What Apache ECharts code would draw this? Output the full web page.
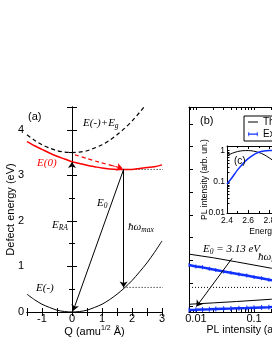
<!DOCTYPE html>
<html><head><meta charset="utf-8">
<script src="https://cdn.jsdelivr.net/npm/echarts@6/dist/echarts.min.js"></script>
<style>html,body{margin:0;padding:0;background:#fff}#c{width:272px;height:352px}</style>
</head><body><div id="c"></div>
<script>
// ---------- panel (a): configuration coordinate diagram ----------
const qValues = [-1.5,-1.25,-1,-0.75,-0.5,-0.25,0,0.25,0.5,0.75,1,1.25,1.5,1.75,2,2.25,2.5,2.75,3];
const eMinus = [0.39,0.27,0.17,0.10,0.04,0.01,0,0.01,0.04,0.10,0.17,0.27,0.39,0.53,0.69,0.88,1.08,1.31,1.56];
const eZero = [3.74,3.65,3.57,3.49,3.42,3.36,3.30,3.26,3.22,3.19,3.16,3.14,3.13,3.13,3.13,3.15,3.17,3.19,3.23];
const eMinusPlusGap = [3.89,3.77,3.67,3.60,3.54,3.51,3.50,3.51,3.54,3.60,3.67,3.77,3.89,4.03,4.19,4.38,4.58,4.81,5.06];
const relaxQ = [0.1,0.5,0.9,1.3,1.62];
const relaxE = [3.45,3.37,3.29,3.22,3.16];
const qTickLabels = [-1,0,1,2,3];
const eTickLabels = [0,1,2,3,4];
const qExcited = 1.72, eZeroMin = 3.13, eAbsorbTop = 3.29, eEmitLow = 0.54, qPanelB = 3.9;

// ---------- panel (b): PL intensity (log) vs energy ----------
const plTheory = [0.0076,0.02,0.05,0.1,0.2,0.5,1.0,1.6];
const theoryHigh = [1.27,1.19,1.10,1.03,0.96,0.87,0.80,0.76];
const theoryLow = [0.17,0.20,0.23,0.255,0.28,0.31,0.33,0.35];
const plExpt = [0.0076,0.01,0.013,0.017,0.022,0.03,0.04,0.055,0.075,0.1,0.135,0.18,0.25,0.35,0.5,0.7,1.0,1.4];
const exptHigh = [1.03,1.00,0.98,0.95,0.92,0.89,0.86,0.83,0.80,0.77,0.74,0.71,0.68,0.65,0.61,0.58,0.54,0.51];
const exptLow = [0.045,0.05,0.055,0.06,0.065,0.07,0.075,0.085,0.09,0.095,0.10,0.105,0.115,0.12,0.125,0.135,0.14,0.145];
const plMajor = [0.01,0.1,1];
const plAllTicks = [0.008,0.009,0.01,0.02,0.03,0.04,0.05,0.06,0.07,0.08,0.09,0.1,0.2,0.3,0.4,0.5,0.6,0.7,0.8,0.9,1];
const bEnergyTicks = [0.13,0.63,1.13,1.63,2.13,2.63,3.13,3.63,4.13];
const arrowB = [[0.042,1.18],[0.0102,0.12]];

// ---------- inset (c): PL spectra ----------
const insetEnergy = [2.4,2.45,2.5,2.55,2.6,2.65,2.7,2.75,2.8,2.85,2.9,2.95,3.0,3.05,3.1,3.15,3.2,3.25];
const insetTheory = [0.68,0.82,0.93,0.99,1.0,0.96,0.87,0.74,0.58,0.44,0.31,0.20,0.12,0.07,0.04,0.022,0.012,0.01];
const insetExpt = [0.085,0.14,0.24,0.38,0.55,0.73,0.88,0.97,1.0,0.98,0.90,0.78,0.62,0.46,0.32,0.21,0.13,0.08];
const insetMajor = [0.01,0.1,1];
const insetAllTicks = [0.01,0.02,0.03,0.04,0.05,0.06,0.07,0.08,0.09,0.1,0.2,0.3,0.4,0.5,0.6,0.7,0.8,0.9,1];

const BLUE = '#1030ff', RED = '#ff0000';
const zip = (a, b) => a.map((v, i) => [v, b[i]]);
const SANS = 'Liberation Sans', SERIF = 'Liberation Serif';
const rich = {
  e: {fontFamily: SERIF, fontStyle: 'italic', fontSize: 11, lineHeight: 14},
  s: {fontFamily: SERIF, fontStyle: 'italic', fontSize: 7.5, lineHeight: 6, verticalAlign: 'bottom'},
  n: {fontFamily: SANS, fontSize: 11, lineHeight: 14},
  c: {fontFamily: SANS, fontSize: 10, lineHeight: 14}
};
function txt(x, y, text, color) {
  return {type: 'text', x: x, y: y, z: 50,
    style: {text: text, rich: rich, fill: color || '#000', align: 'left', verticalAlign: 'middle',
            textAlign: 'left', textVerticalAlign: 'middle'}};
}
const axisLineK = {show: true, lineStyle: {color: '#000', width: 1}};
const fmtNum = v => String(+(+v).toPrecision(3));

const grids = [
  {left: 27, top: 107, width: 135, height: 205, outerBoundsMode: 'none', containLabel: false},
  {left: 189, top: 107, width: 135, height: 205, outerBoundsMode: 'none', containLabel: false},
  {left: 227, top: 146, width: 90, height: 67, outerBoundsMode: 'none', containLabel: false,
   show: true, backgroundColor: '#fff', borderWidth: 0}
];

const xAxes = [
  {gridIndex: 0, type: 'value', position: 'bottom', min: -1.5, max: 3, interval: 0.5,
   axisLine: axisLineK, splitLine: {show: false},
   axisTick: {inside: true, length: 4, lineStyle: {color: '#000'}},
   axisLabel: {customValues: qTickLabels, margin: 1, color: '#000', fontSize: 11, fontFamily: SANS},
   name: 'Q (amu{sup|1/2} Å)', nameLocation: 'middle', nameGap: 13, nameMoveOverlap: false,
   nameTextStyle: {color: '#000', fontSize: 11, fontFamily: SANS, lineHeight: 14,
     rich: {sup: {fontSize: 7, fontFamily: SANS, lineHeight: 6, verticalAlign: 'top'}}}},
  {gridIndex: 0, type: 'value', position: 'top', min: -1.5, max: 3, interval: 0.5,
   axisLine: axisLineK, splitLine: {show: false},
   axisTick: {inside: true, length: 4, lineStyle: {color: '#000'}}, axisLabel: {show: false}},
  {gridIndex: 1, type: 'log', position: 'bottom', min: 0.0076, max: 1.6,
   axisLine: axisLineK, splitLine: {show: false},
   axisTick: {inside: true, length: 3, customValues: plAllTicks, lineStyle: {color: '#000'}},
   axisLabel: {customValues: plMajor, margin: 1, color: '#000', fontSize: 11, fontFamily: SANS, formatter: fmtNum},
   name: 'PL intensity (arb. un.)', nameLocation: 'middle', nameGap: 13, nameMoveOverlap: false,
   nameTextStyle: {color: '#000', fontSize: 10.5, fontFamily: SANS}},
  {gridIndex: 1, type: 'log', position: 'top', min: 0.0076, max: 1.6,
   axisLine: axisLineK, splitLine: {show: false},
   axisTick: {inside: true, length: 3, customValues: plAllTicks, lineStyle: {color: '#000'}},
   axisLabel: {show: false}},
  {gridIndex: 2, type: 'value', position: 'bottom', min: 2.4, max: 3.25, interval: 0.2,
   axisLine: axisLineK, splitLine: {show: false},
   axisTick: {inside: true, length: 3, lineStyle: {color: '#000'}},
   minorTick: {show: true, splitNumber: 2, length: 2, lineStyle: {color: '#000'}},
   axisLabel: {margin: 3, color: '#000', fontSize: 8.5, fontFamily: SANS, formatter: v => (+v).toFixed(1)},
   name: 'Energy (eV)', nameLocation: 'middle', nameGap: 14, nameMoveOverlap: false,
   nameTextStyle: {color: '#000', fontSize: 8.5, fontFamily: SANS}},
  {gridIndex: 2, type: 'value', position: 'top', min: 2.4, max: 3.25, interval: 0.2,
   axisLine: axisLineK, splitLine: {show: false},
   axisTick: {inside: true, length: 3, lineStyle: {color: '#000'}},
   minorTick: {show: true, splitNumber: 2, length: 2, lineStyle: {color: '#000'}},
   axisLabel: {show: false}}
];

const yAxes = [
  {gridIndex: 0, type: 'value', position: 'left', min: 0, max: 4.5, interval: 1,
   axisLine: axisLineK, splitLine: {show: false},
   axisTick: {inside: true, length: 5, lineStyle: {color: '#000'}},
   minorTick: {show: true, splitNumber: 2, length: 3, lineStyle: {color: '#000'}},
   axisLabel: {customValues: eTickLabels, margin: 3, color: '#000', fontSize: 11, fontFamily: SANS},
   name: 'Defect energy (eV)', nameLocation: 'middle', nameGap: 11, nameMoveOverlap: false,
   nameTextStyle: {color: '#000', fontSize: 11, fontFamily: SANS}},
  {gridIndex: 0, type: 'value', position: 'right', min: 0, max: 4.5, interval: 1,
   axisLine: axisLineK, splitLine: {show: false},
   axisTick: {inside: true, length: 5, lineStyle: {color: '#000'}},
   minorTick: {show: true, splitNumber: 2, length: 3, lineStyle: {color: '#000'}},
   axisLabel: {show: false}},
  {gridIndex: 1, type: 'value', position: 'left', min: 0, max: 4.5,
   axisLine: axisLineK, splitLine: {show: false},
   axisTick: {inside: true, length: 4, customValues: bEnergyTicks, lineStyle: {color: '#000'}},
   axisLabel: {show: false}},
  {gridIndex: 2, type: 'log', position: 'left', min: 0.01, max: 1.4,
   axisLine: axisLineK, splitLine: {show: false},
   axisTick: {inside: true, length: 2.5, customValues: insetAllTicks, lineStyle: {color: '#000'}},
   axisLabel: {customValues: insetMajor, margin: 2, color: '#000', fontSize: 8.5, fontFamily: SANS, formatter: fmtNum},
   name: 'PL intensity (arb. un.)', nameLocation: 'middle', nameGap: 18, nameMoveOverlap: false,
   nameTextStyle: {color: '#000', fontSize: 8.5, fontFamily: SANS}}
];

const arrowML = (pairs, color, type) => ({
  silent: true, symbol: ['none', 'arrow'], symbolSize: 6, animation: false,
  label: {show: false}, emphasis: {disabled: true},
  lineStyle: {color: color, width: 1, type: type || 'solid'},
  data: pairs.map(p => [{coord: p[0]}, {coord: p[1]}])
});

const series = [
  {type: 'line', xAxisIndex: 0, yAxisIndex: 0, data: zip(qValues, eMinus), smooth: 0.3,
   showSymbol: false, symbol: 'none', lineStyle: {color: '#000', width: 1}, z: 3,
   markLine: arrowML([
     [[0, 0], [0, eAbsorbTop]],
     [[qExcited, eZeroMin], [0.04, 0.03]],
     [[qExcited, eZeroMin], [qExcited, eEmitLow]]
   ], '#000')},
  {type: 'line', xAxisIndex: 0, yAxisIndex: 0, data: zip(qValues, eZero), smooth: 0.3,
   symbol: 'none', lineStyle: {color: RED, width: 1.5}, z: 3},
  {type: 'line', xAxisIndex: 0, yAxisIndex: 0, data: zip(qValues, eMinusPlusGap), smooth: 0.3,
   symbol: 'none', lineStyle: {color: '#000', width: 1.2, type: [4, 3]}, z: 3},
  {type: 'line', xAxisIndex: 0, yAxisIndex: 0, data: zip(relaxQ, relaxE), smooth: 0.3,
   symbol: 'none', lineStyle: {color: RED, width: 1.2, type: [4, 3]}, z: 3,
   markLine: arrowML([[[relaxQ[3], relaxE[3]], [qExcited - 0.03, eZeroMin + 0.02]]], RED, [4, 3])},
  {type: 'line', xAxisIndex: 0, yAxisIndex: 0, clip: false,
   data: [[qExcited, eZeroMin], [qPanelB, eZeroMin]],
   symbol: 'none', lineStyle: {color: '#000', width: 1, type: [1, 2]}, z: 2},
  {type: 'line', xAxisIndex: 0, yAxisIndex: 0, clip: false,
   data: [[qExcited, eEmitLow], [qPanelB, eEmitLow]],
   symbol: 'none', lineStyle: {color: '#000', width: 1, type: [1, 2]}, z: 2},

  // panel (b)
  {name: 'Theory', type: 'line', xAxisIndex: 2, yAxisIndex: 2, data: zip(plTheory, theoryHigh),
   symbol: 'none', lineStyle: {color: '#000', width: 1}, itemStyle: {color: '#000'}, z: 3,
   markLine: arrowML([arrowB], '#000')},
  {name: 'Theory', type: 'line', xAxisIndex: 2, yAxisIndex: 2, data: zip(plTheory, theoryLow),
   symbol: 'none', lineStyle: {color: '#000', width: 1}, itemStyle: {color: '#000'}, z: 3},
  {name: 'Experiment', type: 'line', xAxisIndex: 2, yAxisIndex: 2, data: zip(plExpt, exptHigh),
   symbol: 'rect', symbolSize: [1, 4], showSymbol: true,
   lineStyle: {color: BLUE, width: 2.5}, itemStyle: {color: BLUE}, z: 3},
  {name: 'Experiment', type: 'line', xAxisIndex: 2, yAxisIndex: 2, data: zip(plExpt, exptLow),
   symbol: 'rect', symbolSize: [1, 5], showSymbol: true,
   lineStyle: {color: BLUE, width: 2.5}, itemStyle: {color: BLUE}, z: 3},
  {type: 'line', xAxisIndex: 2, yAxisIndex: 2, data: [[plTheory[0], eEmitLow], [plTheory[plTheory.length - 1], eEmitLow]],
   symbol: 'none', lineStyle: {color: '#000', width: 1, type: [1, 2]}, z: 2},

  // inset (c)
  {type: 'line', xAxisIndex: 4, yAxisIndex: 3, data: zip(insetEnergy, insetTheory), smooth: 0.3,
   symbol: 'none', lineStyle: {color: '#000', width: 1}, z: 5},
  {type: 'line', xAxisIndex: 4, yAxisIndex: 3, data: zip(insetEnergy, insetExpt), smooth: 0.3,
   symbol: 'none', lineStyle: {color: BLUE, width: 1.5}, z: 5}
];

const option = {
  animation: false,
  backgroundColor: '#fff',
  textStyle: {fontFamily: SANS, color: '#000'},
  grid: grids, xAxis: xAxes, yAxis: yAxes, series: series,
  legend: {
    left: 244, top: 116, orient: 'vertical', selectedMode: false, z: 20,
    backgroundColor: '#fff', borderColor: '#000', borderWidth: 1, borderRadius: 0,
    padding: [1, 4, 2, 4], itemWidth: 10, itemHeight: 9, itemGap: 2, itemTextGap: 4,
    textStyle: {fontSize: 10, fontFamily: SANS, color: '#000', lineHeight: 9},
    data: [
      {name: 'Theory', icon: 'path://M0,0h0.01v0.01h-0.01zM0,4h12v1.2h-12zM12,9h0.01v0.01h-0.01z'},
      {name: 'Experiment', icon: 'path://M0,0h0.01v0.01h-0.01zM0,4h12v1.4h-12zM0.5,2.2h0.9v5h-0.9zM10.6,2.2h0.9v5h-0.9zM12,9h0.01v0.01h-0.01z'}
    ]
  },
  graphic: [
    txt(28, 117, '{n|(a)}'),
    txt(83, 123, '{e|E(-)+E}{s|g}'),
    txt(37, 163, '{e|E(0)}', RED),
    txt(52, 225, '{e|E}{s|RA}'),
    txt(97, 203, '{e|E}{s|0}'),
    txt(128, 227, '{e|ħω}{s|max}'),
    txt(36, 288, '{e|E(-)}'),
    txt(200, 121, '{n|(b)}'),
    txt(234, 161, '{c|(c)}'),
    txt(203, 249, '{e|E}{s|0}{e| = 3.13 eV}'),
    txt(258, 257, '{e|ħω}{s|max}')
  ]
};
const chart = echarts.init(document.getElementById('c'), null, {renderer: 'canvas'});
chart.setOption(option);
</script></body></html>
